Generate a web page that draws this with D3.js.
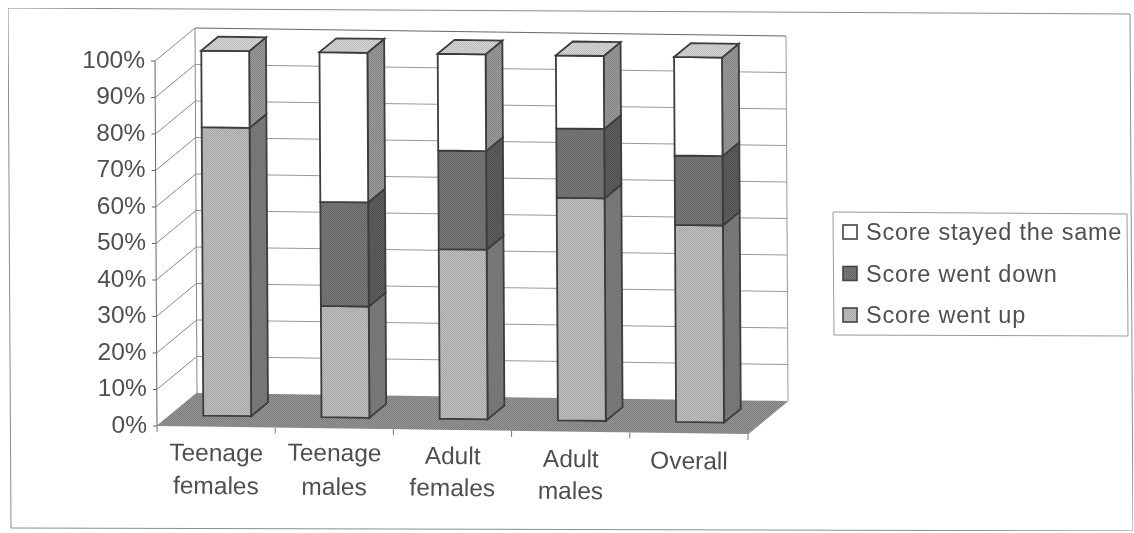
<!DOCTYPE html>
<html><head><meta charset="utf-8">
<script src="https://cdn.jsdelivr.net/npm/d3@7/dist/d3.min.js"></script>
<style>html,body{margin:0;padding:0;background:#fff}svg{display:block}text{font-family:"Liberation Sans",Arial,sans-serif;fill:#505050}</style>
</head><body><svg id="c" width="1134" height="533"></svg>
<script>
const categories=[["Teenage","females"],["Teenage","males"],["Adult","females"],["Adult","males"],["Overall"]];
const scoreUp=[79,30.5,46.5,61,54];
const scoreDown=[0,28.5,27,19,19];
const scoreSame=[21,41,26.5,20,27];
const seriesNames=["Score went up","Score went down","Score stayed the same"];
const yTicks=[0,10,20,30,40,50,60,70,80,90,100];
const rows=categories.map((c,i)=>({i,up:scoreUp[i],down:scoreDown[i],same:scoreSame[i]}));
const stack=d3.stack().keys(["up","down","same"])(rows);

const svg=d3.select("#c");
const defs=svg.append("defs");
defs.append("filter").attr("id","soft").attr("x",0).attr("y",0).attr("width",1).attr("height",1)
  .append("feGaussianBlur").attr("stdDeviation",0.5);
function dither(id,a,b){
  const p=defs.append("pattern").attr("id",id).attr("width",2).attr("height",2).attr("patternUnits","userSpaceOnUse");
  p.append("rect").attr("width",2).attr("height",2).attr("fill",a);
  p.append("rect").attr("width",1).attr("height",1).attr("fill",b);
  p.append("rect").attr("x",1).attr("y",1).attr("width",1).attr("height",1).attr("fill",b);
  return `url(#${id})`;
}
const fills={
  up:{front:dither("f1","#bdbdbd","#a9a9a9"),side:dither("s1","#7d7d7d","#6f6f6f")},
  down:{front:dither("f2","#787878","#686868"),side:dither("s2","#5e5e5e","#505050")},
  same:{front:"#ffffff",side:dither("s3","#999","#858585")}
};
const topFill=dither("t","#d2d2d2","#c0c0c0"), floorFill=dither("fl","#939393","#7f7f7f");

const root=svg.append("g").attr("filter","url(#soft)");
const uScale=d3.scaleBand().domain(d3.range(categories.length)).range([0,1]);
const vScale=d3.scaleLinear().domain([0,100]).range([0,1]);
const O=[157,426],U=[591,8],V=[-2,-365],D=[40,-33];
const P=(u,v,d)=>[O[0]+u*U[0]+v*V[0]+d*D[0],O[1]+u*U[1]+v*V[1]+d*D[1]];
const poly=pts=>pts.map(p=>p.join(",")).join(" ");
const line=(a,b,col,w)=>root.append("line").attr("x1",a[0]).attr("y1",a[1]).attr("x2",b[0]).attr("y2",b[1]).attr("stroke",col).attr("stroke-width",w||1);

root.append("polygon").attr("points",poly([[8,8],[1130,14],[1133,531],[11,528]])).attr("fill","#fff").attr("stroke","#8c8c8c").attr("stroke-width",1);
root.append("polygon").attr("points",poly([P(0,0,0),P(1,0,0),P(1,0,1),P(0,0,1)])).attr("fill",floorFill);
yTicks.forEach(t=>{
  const v=vScale(t);
  if(t>0){line(P(0,v,1),P(1,v,1),t==100?"#666":"#999");}
  line(P(0,v,0),P(0,v,1),"#888");
  line(P(0,v,0),[P(0,v,0)[0]-4,P(0,v,0)[1]],"#666");
  root.append("text").attr("x",P(0,v,0)[0]-10).attr("y",P(0,v,0)[1]-2).attr("dy","0.36em")
    .attr("text-anchor","end").attr("font-size",24.5).text(t+"%");
});
line(P(0,0,0),P(0,1,0),"#666");
line(P(0,0,1),P(0,1,1),"#888");
line(P(1,0,1),P(1,1,1),"#999");
line(P(1,0,0),P(1,0,1),"#999");
d3.range(categories.length+1).forEach(i=>{
  const u=i/categories.length, p=P(u,0,0);
  line(p,[p[0],p[1]+6],"#777");
});
const labY=[[453,486],[453,487],[456,488],[459,491],[461]];
const lab=root.selectAll("text.cat").data(categories).join("text").attr("class","cat")
  .attr("font-size",24.5).attr("text-anchor","middle")
  .attr("transform",(c,i)=>`rotate(0.6 ${P(uScale(i)+uScale.bandwidth()/2,0,0)[0]} 470)`);
lab.each(function(c,i){
  const x=P(uScale(i)+uScale.bandwidth()/2,0,0)[0];
  d3.select(this).selectAll("tspan").data(c).join("tspan").attr("x",x).attr("y",(d,j)=>labY[i][j]+8).text(d=>d);
});
const b0=0.056,bw=0.081,d0=0.33,d1=0.75;
const barG=root.selectAll("g.bar").data(rows).join("g").attr("class","bar");
barG.each(function(r){
  const g=d3.select(this),u0=uScale(r.i)+b0,u1=u0+bw;
  stack.forEach(s=>{
    const seg=s[r.i],a=vScale(seg[0]),b=vScale(seg[1]);
    if(b-a<=0)return;
    g.append("polygon").attr("points",poly([P(u1,a,d0),P(u1,a,d1),P(u1,b,d1),P(u1,b,d0)])).attr("fill",fills[s.key].side).attr("stroke","#3c3c3c").attr("stroke-width",1.8);
    g.append("polygon").attr("points",poly([P(u0,a,d0),P(u1,a,d0),P(u1,b,d0),P(u0,b,d0)])).attr("fill",fills[s.key].front).attr("stroke","#3c3c3c").attr("stroke-width",1.8);
  });
  g.append("polygon").attr("points",poly([P(u0,1,d0),P(u1,1,d0),P(u1,1,d1),P(u0,1,d1)])).attr("fill",topFill).attr("stroke","#3c3c3c").attr("stroke-width",1.8);
});
root.append("polygon").attr("points",poly([[833,212],[1127,214],[1128,336],[834,335]])).attr("fill","#fff").attr("stroke","#999");
const legY=d3.scalePoint().domain(seriesNames.slice().reverse()).range([232,315]);
const legFill={"Score went up":fills.up.front,"Score went down":fills.down.front,"Score stayed the same":"#fff"};
const lg=root.selectAll("g.leg").data(seriesNames).join("g").attr("class","leg");
lg.append("rect").attr("x",843).attr("y",d=>legY(d)-7).attr("width",14).attr("height",14).attr("fill",d=>legFill[d]).attr("stroke","#444").attr("stroke-width",1.6);
lg.append("text").attr("x",866).attr("y",d=>legY(d)).attr("dy","0.36em").attr("font-size",23.5).attr("letter-spacing",0.75).text(d=>d);
</script></body></html>
